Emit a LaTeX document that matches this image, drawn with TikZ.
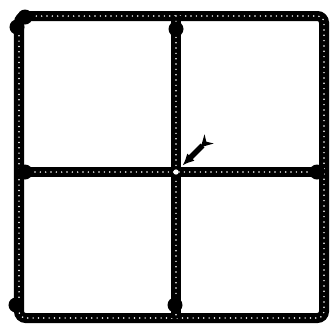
\documentclass[tikz,border=0pt]{standalone}
\usetikzlibrary{arrows.meta}

\begin{document}
\begin{tikzpicture}[
    x=0.03cm,
    y=-0.03cm,
    rail/.style={
        line width=0.3cm,
        draw=black,
        rounded corners=0.2cm,
        postaction={draw=white, line width=0.05cm, line cap=round,
            dash pattern=on 0pt off 0.16cm}
    },
    knot/.style={
        circle,
        fill=black,
        inner sep=0pt,
        minimum size=0.45cm
    },
    hole/.style={
        circle,
        fill=white,
        inner sep=0pt,
        minimum size=0.16cm
    },
    shot/.style={
        {Stealth[reversed,length=3.5mm,width=3.8mm]}-{Latex[length=3.5mm,width=3.2mm]},
        line width=0.16cm,
        shorten >=0.28cm
    }
]
\useasboundingbox (0,0) rectangle (330,324);

\coordinate (tl) at (19,16);
\coordinate (tm) at (176,16);
\coordinate (tr) at (324,16);
\coordinate (ml) at (19,172);
\coordinate (c) at (176,172);
\coordinate (mr) at (324,172);
\coordinate (bl) at (19,318);
\coordinate (bm) at (176,318);
\coordinate (br) at (324,318);
\coordinate (tail) at (209,139);

\draw[rail] (tl) -- (tr) -- (br) -- (bl) -- cycle;
\draw[rail] (tm) -- (bm);
\draw[rail] (ml) -- (mr);

\node[knot] (ktl) at (25,17) {};
\node[knot] (ktl2) at (17,27) {};
\node[knot] (ktm) at (176,29) {};
\node[knot] (kml) at (25,172) {};
\node[knot] (kmr) at (317,172) {};
\node[knot] (kbl) at (16,305) {};
\node[knot] (kbm) at (175,305) {};
\node[hole] (chole) at (c) {};

\draw[shot] (tail) -- (c);

\end{tikzpicture}
\end{document}
